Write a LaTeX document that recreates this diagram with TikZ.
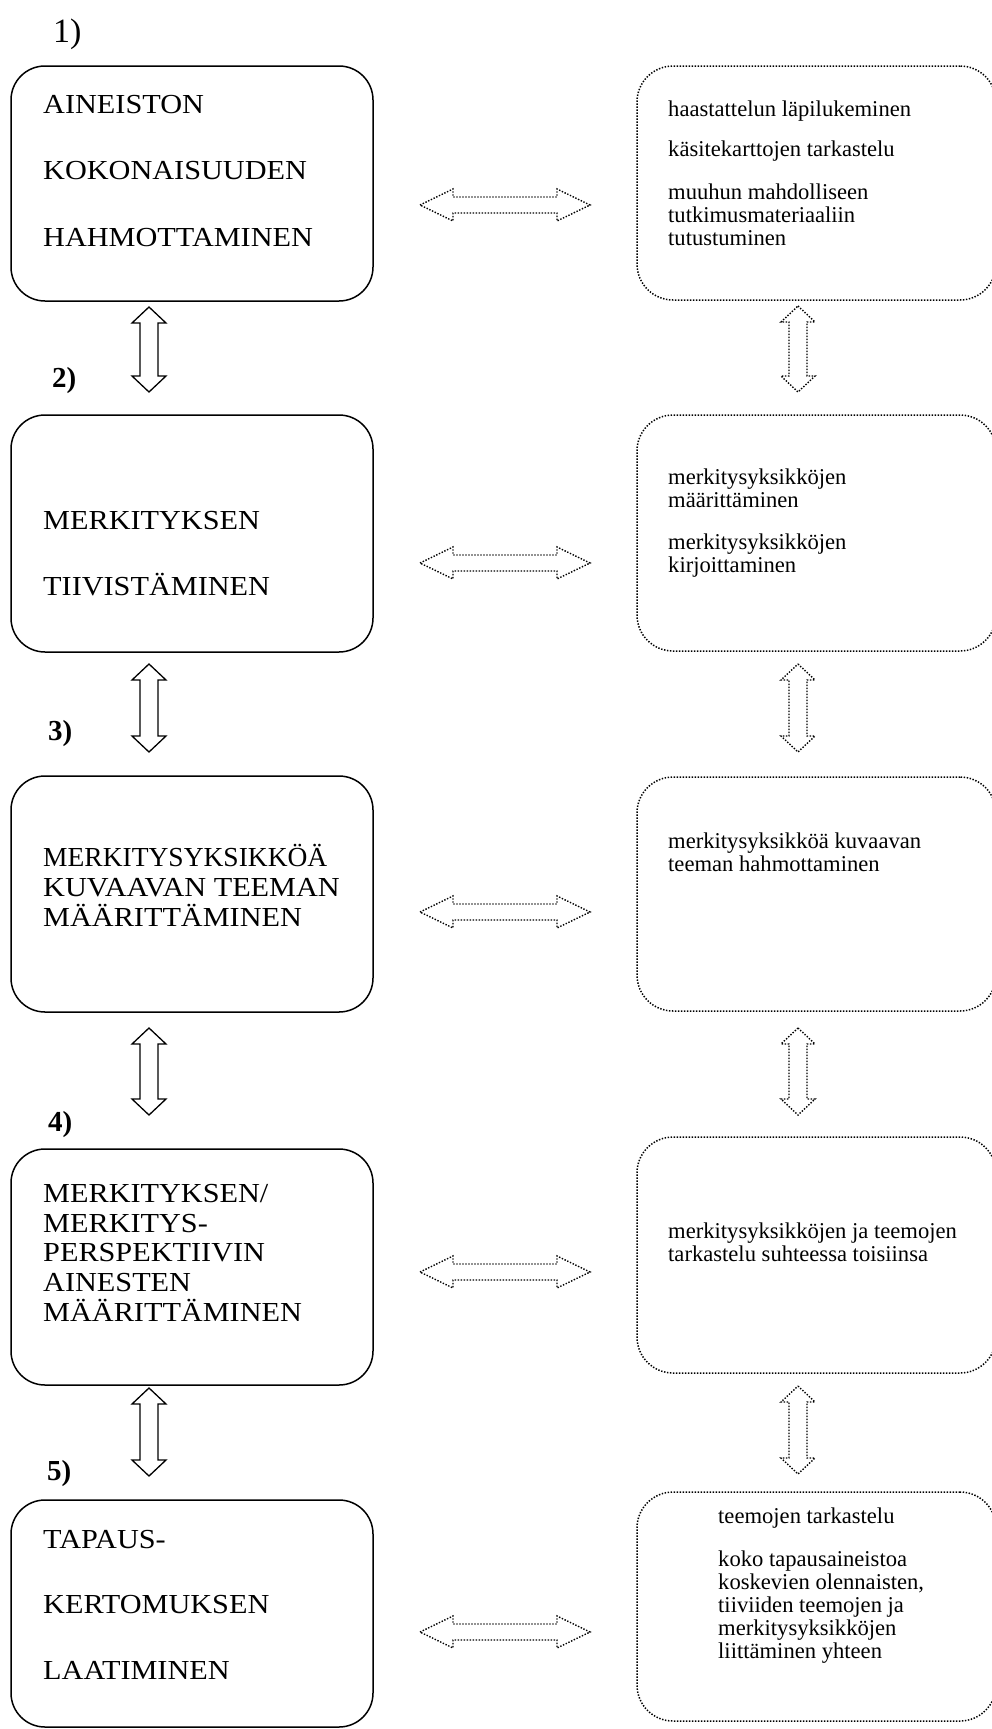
\documentclass[tikz,border=0pt]{standalone}
\usepackage{fontspec}
\setmainfont{Liberation Serif}
\newfontfamily\capfont[FakeStretch=1.1]{Liberation Serif}
\newfontfamily\capfontnarrow[FakeStretch=1.0]{Liberation Serif}
\usetikzlibrary{calc}
\tikzset{
  solidbox/.style={draw, line width=1.5pt, rounded corners=34pt, inner sep=0pt},
  dotbox/.style={draw, line width=1.5pt, dash pattern=on 1.4pt off 1.6pt, rounded corners=36pt, inner sep=0pt},
  captxt/.style={anchor=base west, inner sep=0pt, font=\capfont\fontsize{27.5}{30}\selectfont},
  captxtnarrow/.style={anchor=base west, inner sep=0pt, font=\capfontnarrow\fontsize{27.5}{30}\selectfont},
  lowtxt/.style={anchor=base west, inner sep=0pt, font=\fontsize{22.6}{23}\selectfont},
  numlbl/.style={anchor=base west, inner sep=0pt, font=\fontsize{29}{33}\selectfont\bfseries},
  solidarrow/.style={draw, line width=1.3pt, line join=miter},
  dotarrow/.style={draw, line width=1.4pt, dash pattern=on 1.4pt off 1.6pt, line join=miter},
  vblock/.style={to path={-- ($(\tikztostart)+(17,16)$) -- ($(\tikztostart)+(9,16)$)
      -- ($(\tikztotarget)+(9,-16)$) -- ($(\tikztotarget)+(17,-16)$) -- (\tikztotarget)
      -- ($(\tikztotarget)+(-17,-16)$) -- ($(\tikztotarget)+(-9,-16)$)
      -- ($(\tikztostart)+(-9,16)$) -- ($(\tikztostart)+(-17,16)$) -- cycle}},
  hblock/.style={to path={-- ($(\tikztostart)+(33,-16)$) -- ($(\tikztostart)+(33,-8)$)
      -- ($(\tikztotarget)+(-33,-8)$) -- ($(\tikztotarget)+(-33,-16)$) -- (\tikztotarget)
      -- ($(\tikztotarget)+(-33,16)$) -- ($(\tikztotarget)+(-33,8)$)
      -- ($(\tikztostart)+(33,8)$) -- ($(\tikztostart)+(33,16)$) -- cycle}},
}
\begin{document}
\begin{tikzpicture}[x=1pt,y=-1pt]
\useasboundingbox (0,0) rectangle (991,1729);

% left boxes
\node[solidbox, minimum width=362pt, minimum height=235pt] (L1) at (192,183.5) {};
\node[solidbox, minimum width=362pt, minimum height=237pt] (L2) at (192,533.5) {};
\node[solidbox, minimum width=362pt, minimum height=236pt] (L3) at (192,894) {};
\node[solidbox, minimum width=362pt, minimum height=236pt] (L4) at (192,1267) {};
\node[solidbox, minimum width=362pt, minimum height=227pt] (L5) at (192,1613.5) {};

% right boxes
\node[dotbox, minimum width=359pt, minimum height=234pt] (R1) at (816.5,183) {};
\node[dotbox, minimum width=359pt, minimum height=236pt] (R2) at (816.5,533) {};
\node[dotbox, minimum width=359pt, minimum height=234pt] (R3) at (816.5,894) {};
\node[dotbox, minimum width=359pt, minimum height=236pt] (R4) at (816.5,1255) {};
\node[dotbox, minimum width=359pt, minimum height=229pt] (R5) at (816.5,1606.5) {};

% step labels
\node[anchor=base west, inner sep=0pt, font=\fontsize{34}{38}\selectfont] (n1) at (53,42) {1)};
\node[numlbl] (n2) at (52,387) {2)};
\node[numlbl] (n3) at (48,740) {3)};
\node[numlbl] (n4) at (48,1131) {4)};
\node[numlbl] (n5) at (47,1480) {5)};

% left texts
\node[captxt] (t11) at (43,113) {AINEISTON};
\node[captxt] (t12) at (43,179) {KOKONAISUUDEN};
\node[captxt] (t13) at (43,246) {HAHMOTTAMINEN};
\node[captxt] (t21) at (43,529) {MERKITYKSEN};
\node[captxt] (t22) at (43,595) {TIIVISTÄMINEN};
\node[captxtnarrow] (t31) at (43,866) {MERKITYSYKSIKKÖÄ};
\node[captxt] (t32) at (43,896) {KUVAAVAN TEEMAN};
\node[captxt] (t33) at (43,926) {MÄÄRITTÄMINEN};
\node[captxt] (t41) at (43,1202) {MERKITYKSEN/};
\node[captxt] (t42) at (43,1232) {MERKITYS-};
\node[captxt] (t43) at (43,1261) {PERSPEKTIIVIN};
\node[captxt] (t44) at (43,1291) {AINESTEN};
\node[captxt] (t45) at (43,1321) {MÄÄRITTÄMINEN};
\node[captxt] (t51) at (43,1548) {TAPAUS-};
\node[captxt] (t52) at (43,1613) {KERTOMUKSEN};
\node[captxt] (t53) at (43,1679) {LAATIMINEN};

% right texts
\node[lowtxt] (r11) at (668,116) {haastattelun läpilukeminen};
\node[lowtxt] (r12) at (668,156) {käsitekarttojen tarkastelu};
\node[lowtxt] (r13) at (668,199) {muuhun mahdolliseen};
\node[lowtxt] (r14) at (668,222) {tutkimusmateriaaliin};
\node[lowtxt] (r15) at (668,245) {tutustuminen};
\node[lowtxt] (r21) at (668,484) {merkitysyksikköjen};
\node[lowtxt] (r22) at (668,507) {määrittäminen};
\node[lowtxt] (r23) at (668,549) {merkitysyksikköjen};
\node[lowtxt] (r24) at (668,572) {kirjoittaminen};
\node[lowtxt] (r31) at (668,848) {merkitysyksikköä kuvaavan};
\node[lowtxt] (r32) at (668,871) {teeman hahmottaminen};
\node[lowtxt] (r41) at (668,1238) {merkitysyksikköjen ja teemojen};
\node[lowtxt] (r42) at (668,1261) {tarkastelu suhteessa toisiinsa};
\node[lowtxt] (r51) at (718,1523) {teemojen tarkastelu};
\node[lowtxt] (r52) at (718,1566) {koko tapausaineistoa};
\node[lowtxt] (r53) at (718,1589) {koskevien olennaisten,};
\node[lowtxt] (r54) at (718,1612) {tiiviiden teemojen ja};
\node[lowtxt] (r55) at (718,1635) {merkitysyksikköjen};
\node[lowtxt] (r56) at (718,1658) {liittäminen yhteen};

% arrow end points
\coordinate (va1) at (149,307);  \coordinate (vb1) at (149,392);
\coordinate (va2) at (149,664);  \coordinate (vb2) at (149,752);
\coordinate (va3) at (149,1028); \coordinate (vb3) at (149,1115);
\coordinate (va4) at (149,1388); \coordinate (vb4) at (149,1476);
\coordinate (wa1) at (798,306);  \coordinate (wb1) at (798,392);
\coordinate (wa2) at (798,664);  \coordinate (wb2) at (798,752);
\coordinate (wa3) at (798,1028); \coordinate (wb3) at (798,1115);
\coordinate (wa4) at (798,1386); \coordinate (wb4) at (798,1474);
\coordinate (ha1) at (420,205);  \coordinate (hb1) at (590,205);
\coordinate (ha2) at (420,563);  \coordinate (hb2) at (590,563);
\coordinate (ha3) at (420,912);  \coordinate (hb3) at (590,912);
\coordinate (ha4) at (420,1272); \coordinate (hb4) at (590,1272);
\coordinate (ha5) at (420,1632); \coordinate (hb5) at (590,1632);

% vertical block arrows
\foreach \i in {1,2,3,4}{
  \path[solidarrow] (va\i) to[vblock] (vb\i);
  \path[dotarrow] (wa\i) to[vblock] (wb\i);
}
% horizontal block arrows
\foreach \i in {1,2,3,4,5}{
  \path[dotarrow] (ha\i) to[hblock] (hb\i);
}
\end{tikzpicture}
\end{document}
